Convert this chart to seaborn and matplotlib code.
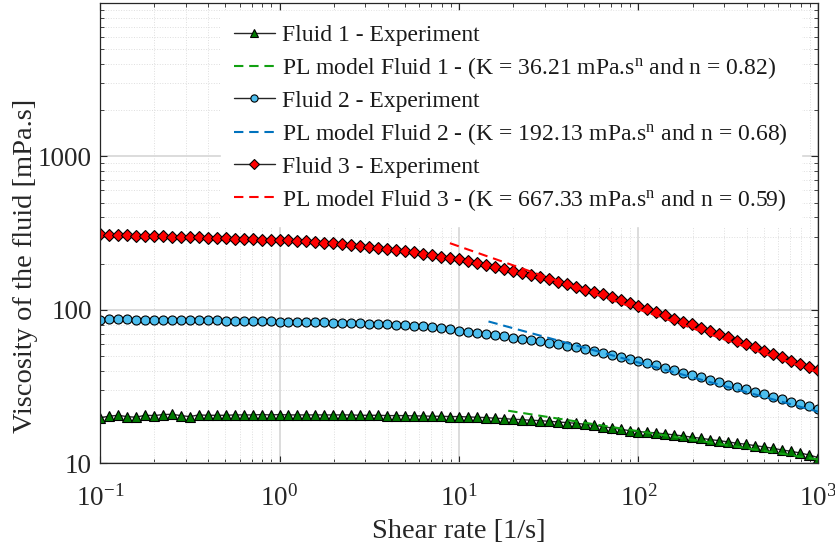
import numpy as np
import matplotlib
matplotlib.use("Agg")
import matplotlib.pyplot as plt
import seaborn as sns
from matplotlib.ticker import LogLocator, NullFormatter

# shear rate grid of the rheometer (20 points per decade, 0.1 -> 1000 1/s)
shear_rate = np.logspace(-1, 3, 81)

eta_fluid1 = [19.85, 20.25, 20.55, 20.15, 19.95, 20.55, 20.45, 20.76, 20.86, 20.45,
              20.15, 20.66, 20.55, 20.55, 20.55, 20.66, 20.66, 20.66, 20.76, 20.66,
              20.76, 20.66, 20.66, 20.66, 20.66, 20.66, 20.66, 20.66, 20.66, 20.55,
              20.55, 20.55, 20.45, 20.45, 20.45, 20.35, 20.35, 20.25, 20.25, 20.15,
              20.15, 20.05, 19.95, 19.85, 19.65, 19.55, 19.36, 19.26, 19.07, 18.97,
              18.78, 18.60, 18.41, 18.23, 17.96, 17.69, 17.34, 17.00, 16.66, 16.33,
              16.08, 15.92, 15.77, 15.53, 15.30, 15.07, 14.77, 14.55, 14.26, 14.05,
              13.77, 13.50, 13.30, 13.03, 12.78, 12.52, 12.21, 11.97, 11.67, 11.33,
              10.90]

eta_fluid2 = [86.1, 86.9, 86.8, 86.6, 86.5, 86.4, 86.3, 86.1, 86.0, 85.9,
              85.7, 85.6, 85.5, 85.3, 85.2, 85.0, 84.8, 84.7, 84.5, 84.3,
              83.9, 83.7, 83.5, 83.3, 83.1, 82.9, 82.7, 82.5, 82.3, 81.9,
              81.4, 81.0, 80.6, 80.2, 79.8, 79.0, 78.2, 77.5, 76.3, 74.8,
              73.3, 71.9, 70.8, 69.7, 68.7, 67.3, 66.0, 65.0, 63.7, 62.5,
              61.2, 59.7, 58.5, 57.1, 55.7, 54.0, 52.4, 51.1, 49.6, 48.1,
              46.5, 44.9, 43.4, 41.8, 40.4, 39.0, 37.7, 36.4, 35.1, 33.9,
              32.6, 31.5, 30.4, 29.3, 28.2, 27.2, 26.3, 25.2, 24.4, 23.5,
              22.6]

eta_fluid3 = [311.6, 308.6, 307.0, 305.5, 304.0, 302.5, 301.8, 301.0, 299.5, 297.9,
              297.2, 296.5, 295.0, 293.5, 292.1, 290.6, 289.1, 287.7, 286.3, 284.8,
              284.0, 283.4, 280.5, 279.2, 276.4, 273.6, 270.9, 269.5, 265.5, 261.5,
              257.6, 253.8, 250.0, 246.3, 241.4, 236.6, 231.9, 226.2, 220.6, 217.3,
              213.0, 206.7, 200.6, 194.7, 188.9, 183.3, 177.9, 172.6, 167.5, 162.5,
              157.7, 152.3, 146.3, 140.6, 135.7, 131.1, 125.9, 121.0, 115.6, 111.1,
              106.2, 101.0, 96.6, 92.3, 87.8, 83.9, 80.3, 76.3, 73.0, 69.4,
              66.3, 63.1, 60.0, 57.1, 54.3, 51.6, 49.1, 46.7, 44.7, 42.5,
              40.8]

# power law model fits (straight lines in log-log), start and end points
pl_x1, pl_y1 = [18.8, 1000], [22.0, 10.6]
pl_x2, pl_y2 = [14.6, 1000], [84.0, 21.7]
pl_x3, pl_y3 = [8.9, 1000], [272.0, 39.2]

labels_exp = ["Fluid 1 - Experiment", "Fluid 2 - Experiment", "Fluid 3 - Experiment"]
labels_pl = ["PL model Fluid 1 - (K = 36.21 mPa.s$^{\\mathrm{n}}$ and n = 0.82)",
             "PL model Fluid 2 - (K = 192.13 mPa.s$^{\\mathrm{n}}$ and n = 0.68)",
             "PL model Fluid 3 - (K = 667.33 mPa.s$^{\\mathrm{n}}$ and n = 0.59)"]

sns.set_style("ticks")
plt.rcParams['font.family'] = ['Liberation Serif', 'DejaVu Serif']
plt.rcParams['mathtext.fontset'] = 'custom'
plt.rcParams['mathtext.rm'] = 'Liberation Serif'
plt.rcParams['mathtext.it'] = 'Liberation Serif:italic'
plt.rcParams['axes.unicode_minus'] = False

fig = plt.figure(figsize=(8.35, 5.51), dpi=100)
ax = fig.add_axes([0.1198, 0.1592, 0.8598, 0.8354])

line_kw = dict(color='0.15', lw=1.0, markersize=6.5, markeredgecolor='k', markeredgewidth=0.8)

sns.lineplot(x=shear_rate, y=eta_fluid1, ax=ax, marker='^', markerfacecolor='#007A00',
             label=labels_exp[0], **line_kw)
sns.lineplot(x=pl_x1, y=pl_y1, ax=ax, color='#11A011', lw=1.5,
             linestyle=(0, (4.5, 2.8)), label=labels_pl[0])
sns.lineplot(x=shear_rate, y=eta_fluid2, ax=ax, marker='o', markerfacecolor='#4DBEEE',
             label=labels_exp[1], **line_kw)
sns.lineplot(x=pl_x2, y=pl_y2, ax=ax, color='#0072BD', lw=1.5,
             linestyle=(0, (4.5, 2.8)), label=labels_pl[1])
sns.lineplot(x=shear_rate, y=eta_fluid3, ax=ax, marker='D', markerfacecolor='#FF0000',
             label=labels_exp[2], **dict(line_kw, markersize=6))
sns.lineplot(x=pl_x3, y=pl_y3, ax=ax, color='#FF0000', lw=1.5,
             linestyle=(0, (4.5, 2.8)), label=labels_pl[2])

ax.set_xscale('log')
ax.set_yscale('log')
ax.set_xlim(0.1, 1000)
ax.set_ylim(10, 10000)
ax.set_yticks([10, 100, 1000], labels=['10', '100', '1000'])
ax.yaxis.set_minor_locator(LogLocator(base=10, subs=np.arange(2, 10)))
ax.yaxis.set_minor_formatter(NullFormatter())
ax.xaxis.set_minor_locator(LogLocator(base=10, subs=np.arange(2, 10)))
ax.xaxis.set_minor_formatter(NullFormatter())

ax.grid(which='major', color='#d9d9d9', lw=1.3, ls='-')
ax.grid(which='minor', color='#dedede', lw=0.7, ls=':')
ax.set_axisbelow(True)

ax.tick_params(which='both', direction='in', top=True, right=True, colors='#262626',
               labelcolor='#262626')
ax.tick_params(which='major', length=5, width=0.8, labelsize=19.5)
ax.tick_params(which='minor', length=3, width=0.6)
ax.tick_params(axis='x', which='major', pad=16)
ax.tick_params(axis='y', which='major', pad=6)
for s in ax.spines.values():
    s.set_color('#262626')
    s.set_linewidth(0.9)

ax.set_xlabel('Shear rate [1/s]', fontsize=20.5, color='#262626', labelpad=5)
ax.set_ylabel('Viscosity of the fluid [mPa.s]', fontsize=20.5, color='#262626', labelpad=0)
ax.yaxis.label.set_y(0.4286)

leg = ax.legend(loc='upper left', bbox_to_anchor=(0.168, 0.982), fontsize=17,
                frameon=True, fancybox=False, framealpha=1, facecolor='white',
                edgecolor='white', handlelength=1.75, handletextpad=0.3,
                borderpad=0.55, labelspacing=0.39, markerscale=0.8, borderaxespad=0)
for t in leg.get_texts():
    t.set_color('#1a1a1a')

fig.savefig('out.png', dpi=100)
